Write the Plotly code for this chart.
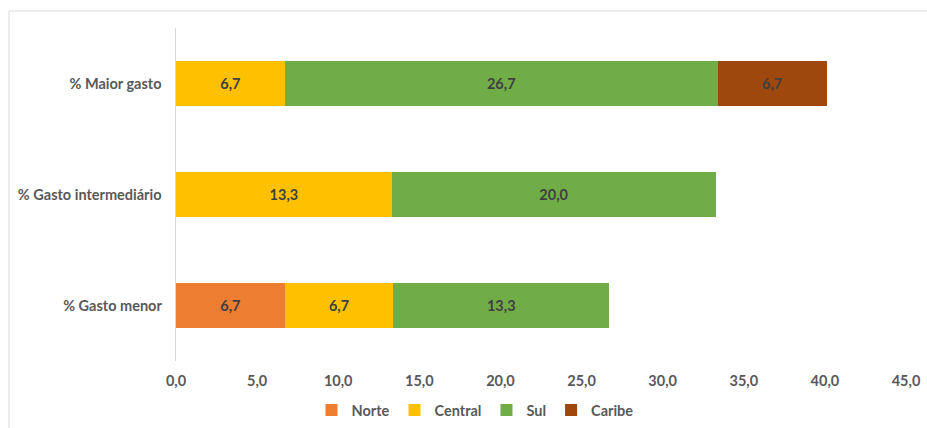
import plotly.graph_objects as go

categories = ["% Maior gasto", "% Gasto intermediário", "% Gasto menor"]
series_names = ["Norte", "Central", "Sul", "Caribe"]
norte = [None, None, 6.7]
central = [6.7, 13.3, 6.7]
sul = [26.7, 20.0, 13.3]
caribe = [6.7, None, None]
tick_vals = [0, 5, 10, 15, 20, 25, 30, 35, 40, 45]

colors = ["#ED7D31", "#FFC000", "#70AD47", "#9E480E"]
values = [norte, central, sul, caribe]

FONT = "Lato"
FS = 14.5
fig = go.Figure()
for name, vals, col in zip(series_names, values, colors):
    fig.add_trace(go.Bar(
        name=name, y=categories, x=vals, orientation="h",
        marker=dict(color=col, line=dict(width=0)),
        texttemplate="%{x:.1f}", textposition="inside", insidetextanchor="middle",
        textfont=dict(family=FONT, size=FS, color="#404040", weight="bold"),
        constraintext="none",
    ))

W, H = 927, 428
l, r, t, b = 176, 21, 28, 67
pw, ph = W - l - r, H - t - b

fig.update_layout(
    width=W, height=H, barmode="stack", bargap=0.6,
    separators=",.",
    margin=dict(l=l, r=r, t=t, b=b, pad=0, autoexpand=False),
    paper_bgcolor="white", plot_bgcolor="white",
    font=dict(family=FONT, color="#595959", size=FS),
    xaxis=dict(range=[0, 45], tickvals=tick_vals, tickformat=".1f",
               showgrid=False, zeroline=False, showline=False,
               ticks="outside", ticklen=7, tickcolor="rgba(0,0,0,0)",
               tickfont=dict(family=FONT, size=FS, color="#595959", weight="bold")),
    yaxis=dict(autorange="reversed", showgrid=False, zeroline=False,
               showline=True, linecolor="#D9D9D9", linewidth=1, ticks="",
               ticksuffix="   ",
               tickfont=dict(family=FONT, size=FS, color="#595959", weight="bold")),
    legend=dict(orientation="h", x=(475 - l) / pw, xanchor="center",
                y=(t + ph - 410) / ph, yanchor="middle",
                font=dict(family=FONT, size=FS, color="#595959", weight="bold"),
                itemwidth=30, traceorder="normal"),
    showlegend=True,
    shapes=[dict(type="rect", xref="paper", yref="paper",
                 x0=(9 - l) / pw, x1=1.2, y0=-0.5, y1=(t + ph - 11) / ph,
                 line=dict(color="#D9D9D9", width=1), fillcolor="rgba(0,0,0,0)",
                 layer="below")],
)
fig.write_html("out.html")
